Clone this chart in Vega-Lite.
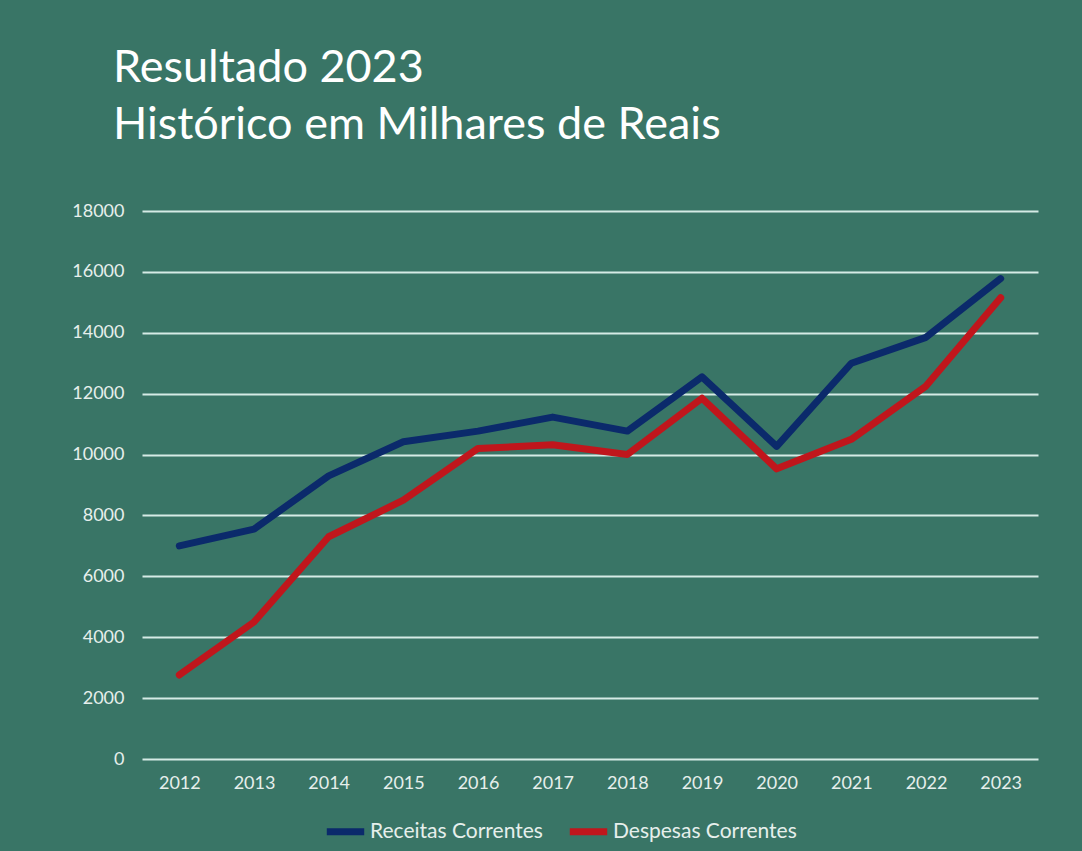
{
  "$schema": "https://vega.github.io/schema/vega-lite/v6.json",
  "autosize": {"type": "none"},
  "width": 896,
  "height": 548,
  "padding": {"left": 142, "top": 211, "right": 44, "bottom": 92},
  "background": "#397566",
  "title": {
    "text": ["Resultado 2023", "Histórico em Milhares de Reais"],
    "anchor": "start",
    "frame": "group",
    "dx": -29,
    "offset": 54,
    "font": "Lato",
    "fontSize": 45,
    "fontWeight": "normal",
    "lineHeight": 57,
    "color": "#ffffff"
  },
  "data": {
    "values": [
      {"ano": "2012", "serie": "Receitas Correntes", "valor": 7000},
      {"ano": "2013", "serie": "Receitas Correntes", "valor": 7550},
      {"ano": "2014", "serie": "Receitas Correntes", "valor": 9300},
      {"ano": "2015", "serie": "Receitas Correntes", "valor": 10420},
      {"ano": "2016", "serie": "Receitas Correntes", "valor": 10770},
      {"ano": "2017", "serie": "Receitas Correntes", "valor": 11230},
      {"ano": "2018", "serie": "Receitas Correntes", "valor": 10770},
      {"ano": "2019", "serie": "Receitas Correntes", "valor": 12550},
      {"ano": "2020", "serie": "Receitas Correntes", "valor": 10270},
      {"ano": "2021", "serie": "Receitas Correntes", "valor": 13000},
      {"ano": "2022", "serie": "Receitas Correntes", "valor": 13850},
      {"ano": "2023", "serie": "Receitas Correntes", "valor": 15780},
      {"ano": "2012", "serie": "Despesas Correntes", "valor": 2760},
      {"ano": "2013", "serie": "Despesas Correntes", "valor": 4500},
      {"ano": "2014", "serie": "Despesas Correntes", "valor": 7300},
      {"ano": "2015", "serie": "Despesas Correntes", "valor": 8500},
      {"ano": "2016", "serie": "Despesas Correntes", "valor": 10200},
      {"ano": "2017", "serie": "Despesas Correntes", "valor": 10320},
      {"ano": "2018", "serie": "Despesas Correntes", "valor": 10000},
      {"ano": "2019", "serie": "Despesas Correntes", "valor": 11850},
      {"ano": "2020", "serie": "Despesas Correntes", "valor": 9530},
      {"ano": "2021", "serie": "Despesas Correntes", "valor": 10500},
      {"ano": "2022", "serie": "Despesas Correntes", "valor": 12250},
      {"ano": "2023", "serie": "Despesas Correntes", "valor": 15150}
    ]
  },
  "mark": {"type": "line", "strokeWidth": 7, "strokeCap": "round", "strokeJoin": "round"},
  "encoding": {
    "x": {
      "field": "ano",
      "type": "ordinal",
      "scale": {"type": "point", "padding": 0.5},
      "axis": {
        "title": null,
        "labelAngle": 0,
        "domain": false,
        "ticks": false,
        "grid": false,
        "labelPadding": 15,
        "labelFont": "Lato",
        "labelFontSize": 18,
        "labelColor": "#e6efec"
      }
    },
    "y": {
      "field": "valor",
      "type": "quantitative",
      "scale": {"domain": [0, 18000], "nice": false},
      "axis": {
        "title": null,
        "values": [0, 2000, 4000, 6000, 8000, 10000, 12000, 14000, 16000, 18000],
        "format": "d",
        "domain": false,
        "ticks": false,
        "grid": true,
        "gridColor": "#d5ebe5",
        "gridWidth": 2,
        "gridOpacity": 1,
        "labelPadding": 18,
        "labelFont": "Lato",
        "labelFontSize": 18,
        "labelColor": "#e6efec"
      }
    },
    "color": {
      "field": "serie",
      "type": "nominal",
      "scale": {"domain": ["Receitas Correntes", "Despesas Correntes"], "range": ["#0b2a6b", "#c0161c"]},
      "legend": {
        "title": null,
        "orient": "none",
        "legendX": 181,
        "legendY": 598,
        "direction": "horizontal",
        "symbolType": "stroke",
        "symbolStrokeWidth": 7,
        "symbolSize": 1400,
        "labelFont": "Lato",
        "labelFontSize": 21,
        "labelLimit": 400,
        "labelColor": "#e6efec",
        "labelOffset": 2,
        "columnPadding": 12
      }
    }
  },
  "config": {"view": {"stroke": null}}
}
